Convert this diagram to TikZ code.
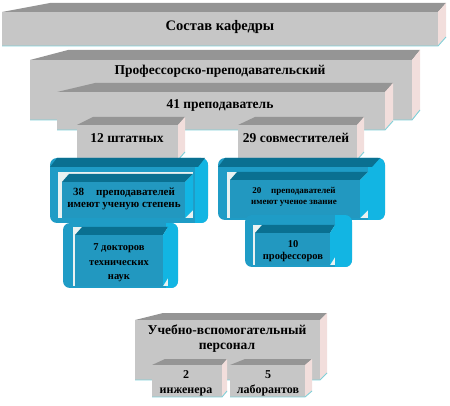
\documentclass[tikz,border=0pt]{standalone}
\usepackage{fontspec}
\setmainfont{Liberation Serif}
\newfontfamily\kafserif{Liberation Serif}
\definecolor{serfront}{HTML}{C6C6C6}
\definecolor{serverh}{HTML}{959595}
\definecolor{rozov}{HTML}{F2DEDC}
\definecolor{biruza}{HTML}{7FD0D8}
\definecolor{sinramka}{HTML}{1F9CC6}
\definecolor{sintemn}{HTML}{0A7091}
\definecolor{golub}{HTML}{12B5E3}
\definecolor{sinkub}{HTML}{2298C0}
\definecolor{vstavka}{HTML}{E9F2F2}
% 3D-brusok: stil', perednyaya gran' (x1,y1)-(x2,y2), levyj zadnij ugol, sdvig vpravo, sdvig vverh
\newcommand{\kafbox}[8]{%
  \fill[#1top] (#2,#3) -- (#6,#3-#8) -- (#4+#7,#3-#8) -- (#4,#3) -- cycle;
  \fill[#1side] (#4,#3) -- (#4+#7,#3-#8) -- (#4+#7,#5-#8) -- (#4,#5) -- cycle;
  \fill[#1front] (#2,#3) rectangle (#4,#5);
  \draw[#1edge] (#2,#5) -- (#4,#5) -- (#4+#7,#5-#8);
}
% ramka: (x1,y1)-(x2,y2), svetlaya polosa sprava ot x
\newcommand{\kafframe}[5]{%
  \fill[ramka] (#1,#2) rectangle (#3,#4);
  \begin{scope}
    \clip[rounded corners=7pt] (#1,#2) rectangle (#3,#4);
    \fill[golub] (#5,#2) rectangle (#3,#4);
  \end{scope}
}
\tikzset{
  seratop/.style={fill=serverh},
  seraside/.style={fill=rozov},
  serafront/.style={fill=serfront},
  seraedge/.style={draw=biruza, line width=0.9pt},
  sintop/.style={fill=sintemn},
  sinside/.style={fill=golub},
  sinfront/.style={fill=sinkub},
  sinedge/.style={draw=none},
  ramka/.style={fill=sinramka, rounded corners=7pt},
  zagl/.style={font=\kafserif\bfseries\fontsize{13.5}{15}\selectfont, inner sep=0pt, align=center},
  malyj/.style={font=\kafserif\bfseries\fontsize{11}{12}\selectfont, inner sep=0pt, align=center},
}
\begin{document}
\begin{tikzpicture}[x=1pt, y=-1pt]
  \useasboundingbox (0,0) rectangle (450,406);
  % serye bruski
  \kafbox{sera}{2}{12}{438}{46}{50}{8}{9}
  \kafbox{sera}{30}{60}{412}{120}{68}{8}{10}
  \kafbox{sera}{57}{92}{385}{130}{95}{8}{9}
  \kafbox{sera}{77}{125}{178}{160}{93}{7}{8}
  \kafbox{sera}{238}{125}{357}{160}{255}{7}{8}
  \node[zagl, font=\kafserif\bfseries\fontsize{14.5}{16}\selectfont] (sostav) at (220,27) {Состав кафедры};
  \node[zagl] (pps) at (220,71) {Профессорско-преподавательский};
  \node[zagl] (prep) at (220,105) {41 преподаватель};
  \node[zagl] (shtat) at (127,138) {12 штатных};
  \node[zagl] (sovm) at (296,138) {29 совместителей};
  % sinie ramki
  \kafframe{50}{158}{208}{223}{195}
  \fill[sintemn] (57,158) -- (50,167) -- (198,167) -- (205,158) -- cycle;
  \fill[vstavka] (58,172) rectangle (193,218);
  \kafbox{sin}{62}{182}{185}{218}{69}{8}{8}
  \kafframe{218}{158}{385}{220}{368}
  \fill[sintemn] (225,158) -- (218,167) -- (372,167) -- (380,158) -- cycle;
  \fill[vstavka] (227,172) rectangle (368,218);
  \kafbox{sin}{230}{180}{360}{218}{237}{8}{8}
  \kafframe{63}{223}{178}{288}{166}
  \fill[vstavka] (73,227) rectangle (168,286);
  \kafbox{sin}{75}{235}{163}{286}{82}{5}{8}
  \kafframe{245}{215}{352}{267}{335}
  \fill[vstavka] (253,225) rectangle (335,265);
  \kafbox{sin}{255}{233}{330}{265}{262}{5}{8}
  \node[malyj] (uchst) at (124,199) {38\hspace{1.1em}преподавателей\\имеют ученую степень};
  \node[malyj, font=\kafserif\bfseries\fontsize{9}{11}\selectfont] (uchzv) at (294,197) {20\hspace{1.1em}преподавателей\\имеют ученое звание};
  \node[malyj, font=\kafserif\bfseries\fontsize{10.5}{14.5}\selectfont] (dokt) at (119,263) {7 докторов\\технических\\наук};
  \node[malyj, font=\kafserif\bfseries\fontsize{10.5}{12}\selectfont] (prof) at (293,251) {10\\профессоров};
  % uchebno-vspomogatel'nyj
  \kafbox{sera}{135}{320}{320}{380}{163}{7}{7}
  \kafbox{sera}{152}{365}{222}{397}{165}{5}{6}
  \kafbox{sera}{230}{365}{305}{397}{245}{7}{6}
  \node[zagl] (uvp) at (227,339) {Учебно-вспомогательный\\персонал};
  \node[zagl, font=\kafserif\bfseries\fontsize{12}{15}\selectfont] (inzh) at (186,383) {2\\инженера};
  \node[zagl, font=\kafserif\bfseries\fontsize{12}{15}\selectfont] (labor) at (268,383) {5\\лаборантов};
\end{tikzpicture}
\end{document}
